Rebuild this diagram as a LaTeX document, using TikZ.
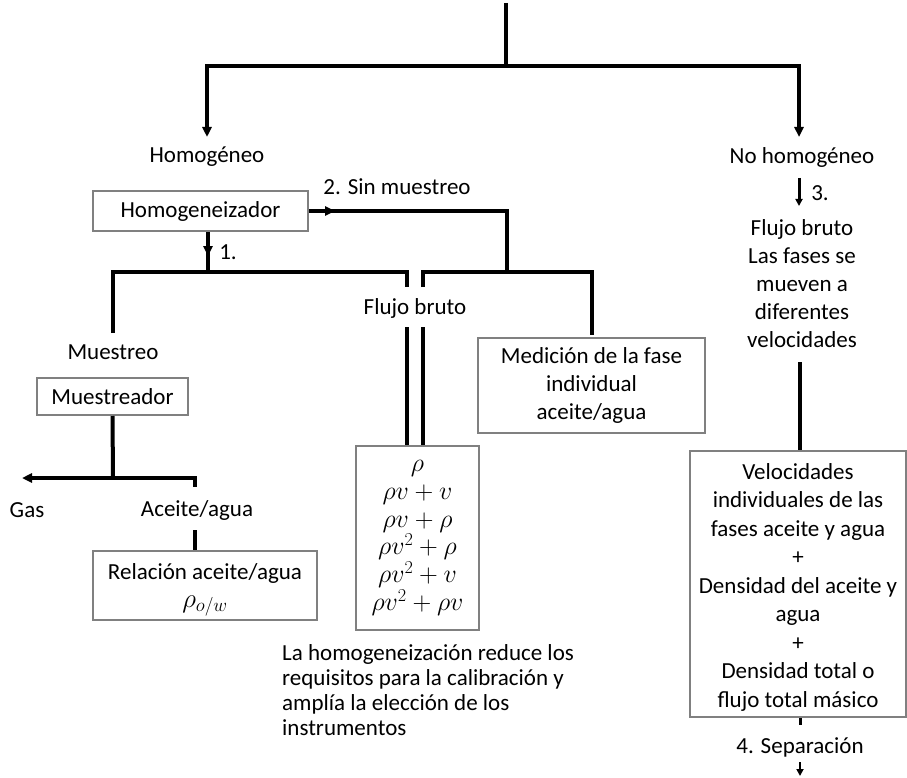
\RequirePackage{fix-cm}
\documentclass[tikz,border=0pt]{standalone}
\usepackage{fontspec}
\setmainfont{Carlito}
\usetikzlibrary{arrows.meta}
\definecolor{boxgray}{HTML}{808080}

\begin{document}
\begin{tikzpicture}[x=1pt,y=-1pt,
  every node/.style={font=\fontsize{23}{28}\selectfont, inner sep=0pt},
  lbl/.style={align=center},
  box/.style={draw=boxgray, line width=2pt, align=center},
  conn/.style={line width=4pt},
  tip/.style={-{Triangle[length=10pt,width=9pt]}},
  midconn/.style={line width=3pt},
  smalltip/.style={-{Triangle[length=7pt,width=7pt]}},
  thinconn/.style={line width=2pt},
]
\useasboundingbox (0,0) rectangle (907,778);

% ---- top split ----
\coordinate (top) at (506,3);
\coordinate (split) at (506,66);
\coordinate (homtip) at (207,137);
\coordinate (nohomtip) at (799,137);
\draw[conn] (top) -- (split);
\draw[conn,tip] (split) -| (homtip);
\draw[conn,tip] (split) -| (nohomtip);

\node[lbl] (hom) at (207,157) {Homogéneo};
\node[lbl] (nohom) at (802,157) {No homogéneo};

% ---- homogeneous branch ----
\node[box, minimum width=215pt, minimum height=40pt] (hbox) at (200.5,211) {Homogeneizador};
\node[lbl] (sinm) at (397,187) {2. Sin muestreo};
\node[lbl] (one) at (228,252) {1.};

\coordinate (sinturn) at (507,211);
\coordinate (sinjoin) at (507,272);
\draw[conn] (hbox.east) -- (sinturn) -- (sinjoin);
\draw[conn,tip] (hbox.east) -- ++(26,0);

\coordinate (onefoot) at (208,272);
\draw[conn] ([xshift=7.5pt]hbox.south) -- (onefoot);
\draw[conn,tip] ([xshift=7.5pt]hbox.south) -- ++(0,24);

\node[lbl] (muestreo) at (113,352) {Muestreo};
\node[lbl] (flujo) at (415,308) {Flujo bruto};
\node[box, minimum width=227pt, minimum height=95pt] (medbox) at (591.5,385.5)
  {Medición de la fase\\individual\\aceite/agua};
\node[box, minimum width=123pt, minimum height=184pt, font=\fontsize{26}{27.8}\selectfont] (formbox) at (417.5,538)
  {$\rho$\\$\rho v+v$\\$\rho v+\rho$\\$\rho v^2+\rho$\\$\rho v^2+v$\\$\rho v^2+\rho v$};

% branch 1: sampling / bulk flow
\draw[conn] (113,333) -- (113,272) -- (407,272) -- (407,287);
% branch 2: bulk flow / individual phase
\draw[conn] (423,287) -- (423,272) -- (592,272) -- (592,335);
% bulk flow down to the measurement box
\draw[conn] (407,327) -- (formbox.north -| 407,0);
\draw[conn] (423,327) -- (formbox.north -| 423,0);

% ---- sampler ----
\node[box, minimum width=151pt, minimum height=37pt] (mbox) at (112.5,396.5) {Muestreador};
\coordinate (mfork) at (113,478);
\coordinate (gastip) at (22,478);
\coordinate (awtop) at (195,487);
\draw[conn] (mbox.south) -- (mfork);
\draw[conn,tip] (mfork) -- (gastip);
\draw[conn] (mfork) -| (awtop);

\node[lbl] (gas) at (27,510) {Gas};
\node[lbl] (aw) at (197,510) {Aceite/agua};

\node[box, minimum width=224pt, minimum height=69pt] (relbox) at (205,585.5) {};
\node[lbl] (reltxt) at (205,573) {Relación aceite/agua};
\node[lbl, font=\fontsize{27}{28}\selectfont] (relsym) at (205,606) {$\rho_{o/w}$};
\draw[conn] (195,530) -- (relbox.north -| 195,0);

\node[anchor=north west, align=left, font=\fontsize{23}{25}\selectfont] (note) at (282,644)
  {La homogeneización reduce los\\requisitos para la calibración y\\amplía la elección de los\\instrumentos};

% ---- non-homogeneous branch ----
\node[lbl] (three) at (820,193) {3.};
\draw[midconn,smalltip] (799,178) -- (799,206);

\node[lbl] (bulk) at (802,284)
  {Flujo bruto\\Las fases se\\mueven a\\diferentes\\velocidades};

\node[box, minimum width=216pt, minimum height=266pt] (rbox) at (798,584) {};
\node[lbl, font=\fontsize{23}{28.5}\selectfont] (rtxt) at (798,587)
  {Velocidades\\individuales de las\\fases aceite y agua\\+\\Densidad del aceite y\\agua\\+\\Densidad total o\\flujo total másico};
\draw[conn] (800,362) -- (rbox.north -| 800,0);
\draw[midconn] (rbox.south -| 800,0) -- ++(0,7);

\node[lbl] (sep) at (800,747) {4. Separación};
\draw[thinconn,smalltip] (800,762) -- (800,776);
\end{tikzpicture}
\end{document}
